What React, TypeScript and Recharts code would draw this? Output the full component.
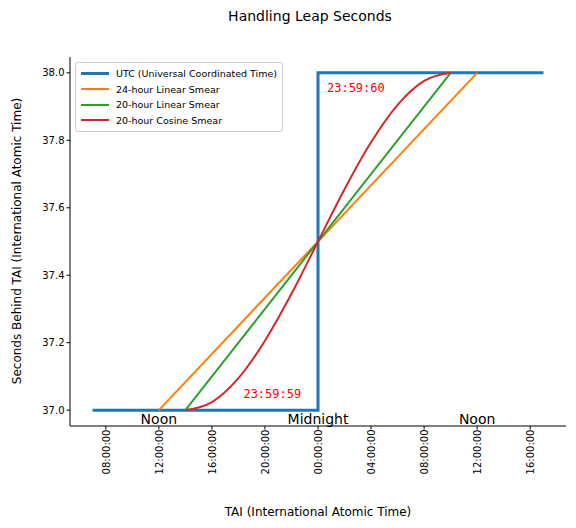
import React from 'react';
import { LineChart, Line, XAxis, YAxis, ReferenceDot } from 'recharts';

// hours relative to midnight
const utc = [
  { t: -17, v: 37 }, { t: 0, v: 37 }, { t: 0, v: 38 }, { t: 17, v: 38 },
];
const linear24 = [{ t: -12, v: 37 }, { t: 12, v: 38 }];
const linear20 = [{ t: -10, v: 37 }, { t: 10, v: 38 }];
const cosine20 = [
  { t: -10, v: 37 }, { t: -8, v: 37.024 }, { t: -6, v: 37.095 }, { t: -4, v: 37.206 },
  { t: -2, v: 37.345 }, { t: 0, v: 37.5 }, { t: 2, v: 37.655 }, { t: 4, v: 37.794 },
  { t: 6, v: 37.905 }, { t: 8, v: 37.976 }, { t: 10, v: 38 },
];
const xTicks = [-16, -12, -8, -4, 0, 4, 8, 12, 16];
const xTickLabels = ['08:00:00', '12:00:00', '16:00:00', '20:00:00', '00:00:00', '04:00:00', '08:00:00', '12:00:00', '16:00:00'];
const yTicks = [37.0, 37.2, 37.4, 37.6, 37.8, 38.0];
const dayLabels = [{ t: -12, text: 'Noon' }, { t: 0, text: 'Midnight' }, { t: 12, text: 'Noon' }];

const legendItems = [
  { name: 'UTC (Universal Coordinated Time)', color: '#1f77b4', w: 3 },
  { name: '24-hour Linear Smear', color: '#ff7f0e', w: 2 },
  { name: '20-hour Linear Smear', color: '#2ca02c', w: 2 },
  { name: '20-hour Cosine Smear', color: '#d62728', w: 2 },
];

const font = 'DejaVu Sans, sans-serif';

const XTick = (props: any) => {
  const { x, y, payload } = props;
  const i = xTicks.indexOf(payload.value);
  return (
    <text x={x + 4} y={y - 2} transform={`rotate(-90 ${x + 4} ${y - 2})`} textAnchor="end" fontSize={10} fontFamily={font} fill="#000">
      {xTickLabels[i]}
    </text>
  );
};

export default function App() {
  return (
    <div style={{ position: 'absolute', left: 0, top: 0, width: 576, height: 528, background: '#fff', fontFamily: font }}>
      <div style={{ position: 'absolute', top: 8, width: 620, textAlign: 'center', fontSize: 14 }}>Handling Leap Seconds</div>
      <LineChart width={576} height={528} margin={{ top: 57, right: 10, left: 0, bottom: 0 }}>
        <XAxis
          type="number" dataKey="t" domain={[-18.7, 18.7]} ticks={xTicks} allowDataOverflow
          tick={<XTick />} tickSize={3.5} height={102} stroke="#000"
          label={{ value: 'TAI (International Atomic Time)', position: 'insideBottom', offset: 12, fontSize: 12, fill: '#000' }}
        />
        <YAxis
          type="number" dataKey="v" domain={[36.953, 38.047]} ticks={yTicks} allowDataOverflow
          tickFormatter={(v: number) => v.toFixed(1)} tick={{ fontSize: 10, fill: '#000' }} tickSize={3.5} width={70} stroke="#000"
        />
        <Line data={utc} dataKey="v" type="linear" stroke="#1f77b4" strokeWidth={3} dot={false} isAnimationActive={false} />
        <Line data={linear24} dataKey="v" type="linear" stroke="#ff7f0e" strokeWidth={2} dot={false} isAnimationActive={false} />
        <Line data={linear20} dataKey="v" type="linear" stroke="#2ca02c" strokeWidth={2} dot={false} isAnimationActive={false} />
        <Line data={cosine20} dataKey="v" type="monotone" stroke="#d62728" strokeWidth={2} dot={false} isAnimationActive={false} />
        {dayLabels.map((d, i) => (
          <ReferenceDot key={i} x={d.t} y={36.975} r={0} ifOverflow="visible"
            label={{ value: d.text, position: 'center', fontSize: 14, fill: '#000' }} />
        ))}
        <ReferenceDot x={0.3} y={37.955} r={0} ifOverflow="visible"
          label={{ value: '23:59:60', position: 'right', fontSize: 12, fill: 'red', fontFamily: 'DejaVu Sans Mono, monospace' }} />
        <ReferenceDot x={-6.0} y={37.05} r={0} ifOverflow="visible"
          label={{ value: '23:59:59', position: 'right', fontSize: 12, fill: 'red', fontFamily: 'DejaVu Sans Mono, monospace' }} />
      </LineChart>
      <div style={{ position: 'absolute', left: 17, top: 241, width: 0, height: 0 }}>
        <div style={{ position: 'absolute', transform: 'translate(-50%, -50%) rotate(-90deg)', whiteSpace: 'nowrap', fontSize: 12 }}>
          Seconds Behind TAI (International Atomic Time)
        </div>
      </div>
      <div style={{ position: 'absolute', left: 75, top: 62, border: '1px solid #ccc', borderRadius: 3, padding: '3px 5px', background: '#fff', fontSize: 9.5 }}>
        {legendItems.map((it) => (
          <div key={it.name} style={{ display: 'flex', alignItems: 'center', height: 15.5 }}>
            <div style={{ width: 28, height: it.w, background: it.color, marginRight: 7 }} />
            {it.name}
          </div>
        ))}
      </div>
      <style>{`.recharts-cartesian-axis-tick-value{font-family:${font}}`}</style>
    </div>
  );
}
